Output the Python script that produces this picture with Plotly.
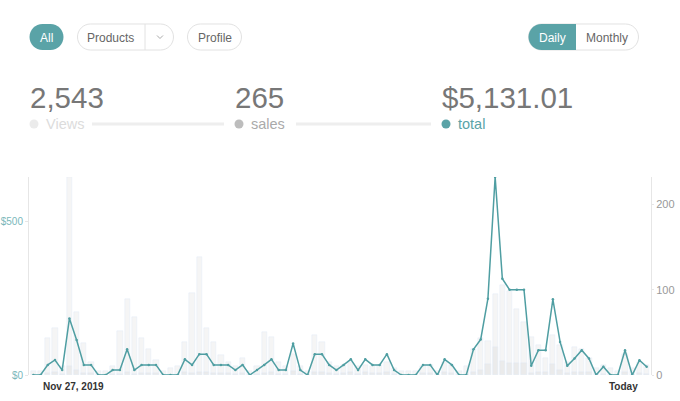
import pandas as pd
import plotly.graph_objects as go

# daily series
days = pd.date_range("2019-11-26", periods=86, freq="D")

total = [0, 0, 33, 49, 16, 184, 114, 33, 33, 0,
         0, 16, 16, 84, 16, 33, 33, 33, 0, 0,
         0, 51, 33, 68, 68, 33, 33, 33, 16, 33,
         0, 16, 33, 51, 16, 16, 103, 16, 0, 68,
         68, 33, 16, 33, 51, 16, 51, 33, 33, 68,
         16, 0, 0, 0, 33, 33, 0, 51, 33, 0,
         0, 84, 116, 249, 646, 314, 278, 278, 278, 30,
         81, 81, 247, 108, 30, 54, 81, 54, 0, 27,
         0, 0, 81, 0, 48, 27]

views = [5, 5, 43, 55, 10, 232, 74, 38, 15, 5,
         5, 10, 52, 89, 68, 43, 30, 17, 5, 8,
         10, 39, 96, 138, 55, 39, 23, 15, 10, 20,
         5, 10, 50, 45, 15, 10, 25, 10, 5, 47,
         39, 15, 10, 12, 15, 10, 12, 10, 12, 15,
         8, 5, 5, 5, 10, 12, 5, 15, 12, 5,
         10, 31, 43, 40, 95, 105, 99, 77, 62, 45,
         35, 20, 47, 35, 15, 33, 30, 20, 8, 12,
         8, 5, 25, 8, 15, 12]

sales = [0, 0, 2, 3, 1, 10, 6, 2, 2, 0,
         0, 1, 1, 4, 1, 2, 2, 2, 0, 0,
         0, 3, 2, 4, 4, 2, 2, 2, 1, 2,
         0, 1, 2, 3, 1, 1, 5, 1, 0, 4,
         4, 2, 1, 2, 3, 1, 3, 2, 2, 4,
         1, 0, 0, 0, 2, 2, 0, 3, 2, 0,
         0, 4, 6, 13, 33, 16, 14, 14, 14, 2,
         4, 4, 13, 6, 2, 3, 4, 3, 0, 1,
         0, 0, 4, 0, 2, 1]

kpi_values = ["2,543", "265", "$5,131.01"]
kpi_names = ["Views", "sales", "total"]
filter_buttons = ["All", "Products", "Profile"]
period_buttons = ["Daily", "Monthly"]

TEAL = "#5aa3a7"
LINE = "#4f9ea2"
BORDER = "#e2e2e2"
FONT = "Liberation Sans"

W, H = 680, 401
L, R, T, B = 29, 29, 177, 26
PW, PH = W - L - R, H - T - B


# pixel (from top-left of the page) -> paper coords
def px(x):
    return (x - L) / PW


def py(y):
    return (H - B - y) / PH


def pill(x0, y0, x1, y1, left=True, right=True):
    # rounded box as svg path in paper units
    r = (y1 - y0) / 2
    k = 0.5523 * r
    p = []
    if right:
        p += [("M", x1 - r, y0),
              ("C", x1 - r + k, y0, x1, y0 + r - k, x1, y0 + r),
              ("C", x1, y0 + r + k, x1 - r + k, y1, x1 - r, y1)]
    else:
        p += [("M", x1, y0), ("L", x1, y1)]
    if left:
        p += [("L", x0 + r, y1),
              ("C", x0 + r - k, y1, x0, y1 - r + k, x0, y1 - r),
              ("C", x0, y1 - r - k, x0 + r - k, y0, x0 + r, y0)]
    else:
        p += [("L", x0, y1), ("L", x0, y0)]
    out = ""
    for seg in p:
        pts = seg[1:]
        out += seg[0] + " " + " ".join(
            f"{px(pts[i]):.5f},{py(pts[i + 1]):.5f}" for i in range(0, len(pts), 2)) + " "
    return out + "Z"


fig = go.Figure()

fig.add_trace(go.Bar(x=days, y=views, marker_color="#f5f5f5", width=0.72 * 86400000,
                     name=kpi_names[0]))
fig.add_trace(go.Bar(x=days, y=sales, marker_color="#ebebeb", width=0.72 * 86400000,
                     name=kpi_names[1]))
fig.add_trace(go.Scatter(x=days, y=total, yaxis="y2", mode="lines+markers",
                         line=dict(color=LINE, width=1.5), marker=dict(size=2.5, color=LINE),
                         name=kpi_names[2]))

shapes = []
annotations = []

# top buttons
shapes.append(dict(type="path", path=pill(29.5, 24, 63.5, 50), fillcolor=TEAL, line_width=0))
annotations.append(dict(text=filter_buttons[0], x=px(46.5), y=py(37.5), font=dict(color="white", size=12)))
shapes.append(dict(type="path", path=pill(77.5, 24, 173.5, 50), fillcolor="white",
                   line=dict(color=BORDER, width=1)))
shapes.append(dict(type="line", x0=px(145), x1=px(145), y0=py(24), y1=py(50), line=dict(color=BORDER, width=1)))
shapes.append(dict(type="path", path=f"M {px(157):.5f},{py(35.5):.5f} L {px(160):.5f},{py(38.5):.5f} L {px(163):.5f},{py(35.5):.5f}",
                   line=dict(color="#aaaaaa", width=1)))
annotations.append(dict(text=filter_buttons[1], x=px(111), y=py(37.5), font=dict(color="#666666", size=12)))
shapes.append(dict(type="path", path=pill(187.5, 24, 241.5, 50), fillcolor="white",
                   line=dict(color=BORDER, width=1)))
annotations.append(dict(text=filter_buttons[2], x=px(214.5), y=py(37.5), font=dict(color="#666666", size=12)))

shapes.append(dict(type="path", path=pill(528.5, 24, 638.5, 50), fillcolor="white",
                   line=dict(color=BORDER, width=1)))
shapes.append(dict(type="path", path=pill(528.5, 24, 576, 50, right=False), fillcolor=TEAL, line_width=0))
annotations.append(dict(text=period_buttons[0], x=px(552.5), y=py(37.5), font=dict(color="white", size=12)))
annotations.append(dict(text=period_buttons[1], x=px(607), y=py(37.5), font=dict(color="#666666", size=12)))

# kpi row
kpi_x = [28, 233, 440]
dot_colors = ["#ebebeb", "#bdbdbd", TEAL]
name_colors = ["#dcdcdc", "#aaaaaa", TEAL]
line_spans = [(92, 224), (296, 431), None]
for i in range(3):
    x0 = kpi_x[i]
    annotations.append(dict(text=kpi_values[i], x=px(x0), y=py(97), xanchor="left",
                            font=dict(color="#777777", size=29.5)))
    shapes.append(dict(type="circle", x0=px(x0 + 1.5), x1=px(x0 + 10.5), y0=py(119.5), y1=py(128.5),
                       fillcolor=dot_colors[i], line_width=0))
    annotations.append(dict(text=kpi_names[i], x=px(x0 + 16), y=py(124), xanchor="left",
                            font=dict(color=name_colors[i], size=14.5)))
    if line_spans[i]:
        a, b = line_spans[i]
        shapes.append(dict(type="line", x0=px(a), x1=px(b), y0=py(124), y1=py(124),
                           line=dict(color="#eeeeee", width=3)))

# date labels under the chart
annotations.append(dict(text="<b>Nov 27, 2019</b>", x=px(41), xanchor="left",
                        y=py(386), font=dict(color="#333333", size=10)))
annotations.append(dict(text="<b>Today</b>", x=px(640), xanchor="right",
                        y=py(386), font=dict(color="#333333", size=10)))

for a in annotations:
    a["xref"] = "paper"
    a["yref"] = "paper"
    a["showarrow"] = False
    a.setdefault("xanchor", "center")
    a["yanchor"] = "middle"
    a["font"]["family"] = FONT
for s in shapes:
    s["xref"] = "paper"
    s["yref"] = "paper"
    s["layer"] = "above"

half = pd.Timedelta(hours=14.4)
fig.update_layout(
    width=W, height=H,
    margin=dict(l=L, r=R, t=T, b=B, pad=0),
    paper_bgcolor="white", plot_bgcolor="white",
    barmode="overlay", bargap=0,
    showlegend=False,
    font=dict(family=FONT),
    shapes=shapes, annotations=annotations,
    xaxis=dict(range=[days[0] - half, days[-1] + half], showgrid=False, zeroline=False,
               showticklabels=False, showline=False, ticks=""),
    yaxis=dict(side="right", range=[0, 232], tickvals=[0, 100, 200], showgrid=False, zeroline=False,
               showline=True, linecolor="#e6e6e6", linewidth=1, ticks="outside", ticklen=2,
               tickcolor="#e6e6e6", tickfont=dict(color="#999999", size=11), automargin=False),
    yaxis2=dict(overlaying="y", side="left", range=[0, 646], tickvals=[0, 500],
                ticktext=["$0", "$500"],
                showgrid=False, zeroline=False, showline=True, linecolor="#e6e6e6", linewidth=1,
                ticks="outside", ticklen=3, tickcolor="#e6e6e6",
                tickfont=dict(color="#7ab7ba", size=10), automargin=False),
)

# drop the default 8px page margin so the figure fills the window
fig.write_html("out.html", config={"displayModeBar": False},
               post_script="document.body.style.margin='0';")
